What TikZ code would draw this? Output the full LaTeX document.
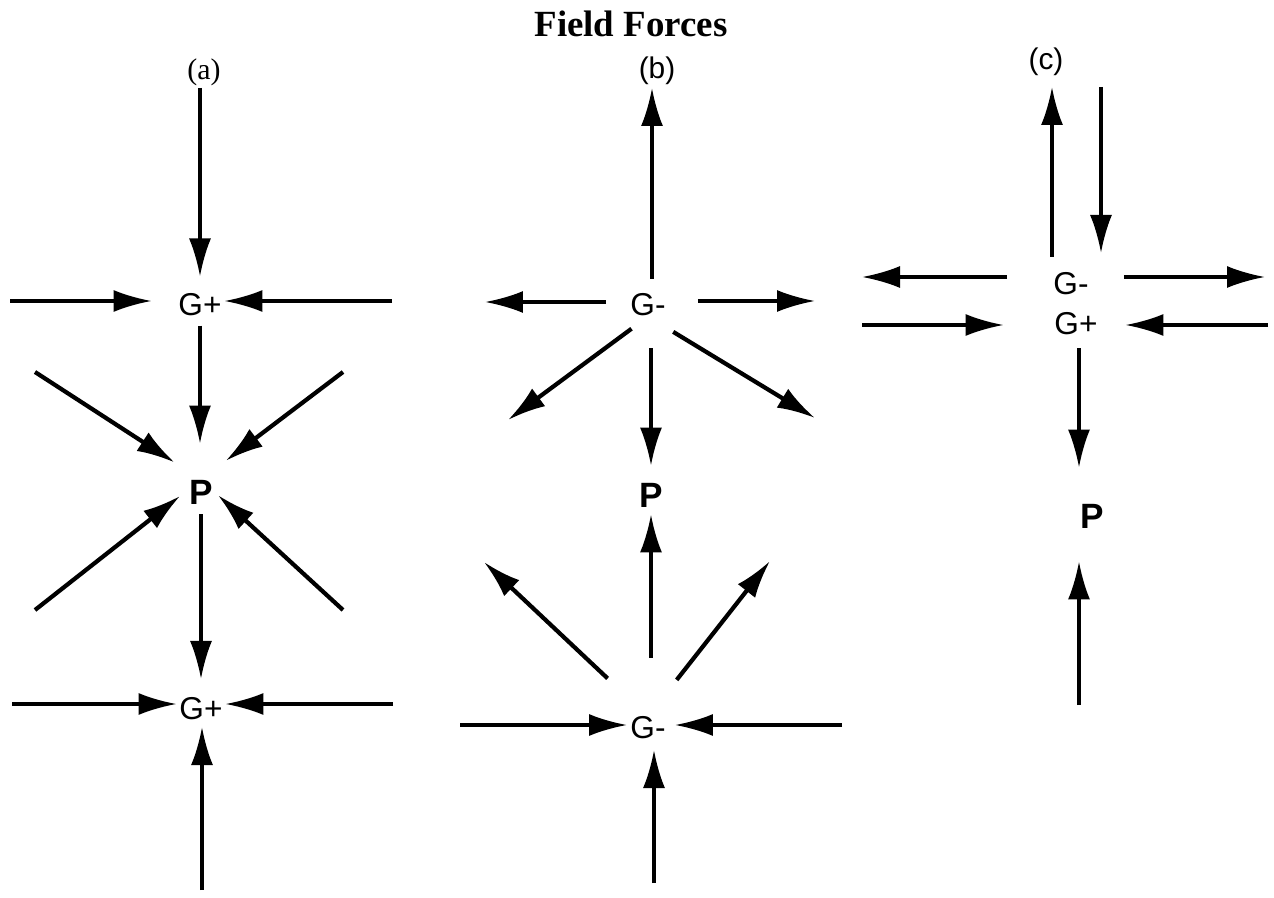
\documentclass[tikz,border=0pt]{standalone}
\usepackage{fontspec}
\setmainfont{Liberation Serif}
\setsansfont{Liberation Sans}
\usetikzlibrary{arrows.meta}

\begin{document}
\begin{tikzpicture}[x=0.02cm, y=-0.02cm,
    force/.style={line width=1.8pt, -{Latex[length=0.76cm, width=0.44cm]}},
    slant/.style={force, line width=2.4pt},
    glabel/.style={inner sep=0pt, font=\sffamily\fontsize{18}{20}\selectfont},
    plabel/.style={inner sep=0pt, font=\sffamily\bfseries\fontsize{20}{22}\selectfont},
    panel/.style={inner sep=0pt, font=\fontsize{17}{19}\selectfont}]
    \useasboundingbox (0,0) rectangle (1274,898);
    \node[inner sep=0pt, font=\bfseries\fontsize{21}{24}\selectfont] (title) at (631,24) {Field Forces};

    % (a)
    \node[panel] (La) at (204,72) {(a)};
    \node[glabel] (Gat) at (200,305) {G+};
    \node[plabel] (Pa) at (201,492) {P};
    \node[glabel] (Gab) at (201,709) {G+};
    \coordinate (a1) at (200,88);
    \coordinate (a2) at (10,301);
    \coordinate (a3) at (392,301);
    \coordinate (a4) at (35,372);
    \coordinate (a5) at (343,372);
    \coordinate (a6) at (35,610);
    \coordinate (a7) at (343,610);
    \coordinate (a8) at (12,704);
    \coordinate (a9) at (393,704);
    \coordinate (a10) at (202,890);
    \draw[force, shorten >=0.34cm] (a1) -- (a1 |- Gat.north);
    \draw[force, shorten >=0.53cm] (a2) -- (a2 -| Gat.west);
    \draw[force, shorten >=0.05cm] (a3) -- (a3 -| Gat.east);
    \draw[force, shorten <=0.18cm, shorten >=0.72cm] (Gat.south) -- (Gat.south |- Pa.north);
    \draw[slant, shorten >=0.63cm] (a4) -- (Pa.north);
    \draw[slant, shorten >=0.62cm] (a5) -- (Pa.north);
    \draw[slant, shorten >=0.53cm] (a6) -- (Pa.north);
    \draw[slant, shorten >=0.46cm] (a7) -- (Pa.north);
    \draw[force, shorten <=0.2cm, shorten >=0.37cm] (Pa.south) -- (Pa.south |- Gab.north);
    \draw[force, shorten >=0.05cm] (a8) -- (a8 -| Gab.west);
    \draw[force, shorten >=0.05cm] (a9) -- (a9 -| Gab.east);
    \draw[force, shorten >=0.13cm] (a10) -- (a10 |- Gab.south);

    % (b)
    \node[panel, font=\sffamily\fontsize{17}{19}\selectfont] (Lb) at (657,71) {(b)};
    \node[glabel] (Gbt) at (648,305) {G-};
    \node[plabel] (Pb) at (651,495) {P};
    \node[glabel] (Gbb) at (648,728) {G-};
    \coordinate (b1) at (652,88);
    \coordinate (b2) at (485,302);
    \coordinate (b3) at (815,301);
    \coordinate (b4) at (508,420);
    \coordinate (b5) at (815,418);
    \coordinate (b6) at (484,562);
    \coordinate (b7) at (770,561);
    \coordinate (b8) at (460,725);
    \coordinate (b9) at (842,725);
    \coordinate (b10) at (654,883);
    \draw[force, shorten <=0.29cm] (b1 |- Gbt.north) -- (b1);
    \draw[force, shorten <=0.48cm] (b2 -| Gbt.west) -- (b2);
    \draw[force, shorten <=0.64cm] (b3 -| Gbt.east) -- (b3);
    \draw[slant, shorten <=0.41cm] (Gbt.south) -- (b4);
    \draw[slant, shorten <=0.59cm] (Gbt.south) -- (b5);
    \draw[force, shorten <=0.63cm, shorten >=0.34cm] (Gbt.south -| Pb) -- (Pb.north);
    \draw[force, shorten <=1.17cm, shorten >=0.14cm] (Gbb.north -| Pb) -- (Pb.south);
    \draw[slant, shorten <=1.11cm] (Gbb.north) -- (b6);
    \draw[slant, shorten <=0.93cm] (Gbb.north) -- (b7);
    \draw[force, shorten >=0.06cm] (b8) -- (b8 -| Gbb.west);
    \draw[force, shorten >=0.18cm] (b9) -- (b9 -| Gbb.east);
    \draw[force, shorten >=0.21cm] (b10) -- (b10 |- Gbb.south);

    % (c)
    \node[panel, font=\sffamily\fontsize{17}{19}\selectfont] (Lc) at (1046,62) {(c)};
    \node[glabel] (Gcm) at (1071,284) {G-};
    \node[glabel] (Gcp) at (1076,324) {G+};
    \node[plabel] (Pc) at (1092,516) {P};
    \coordinate (c1) at (1052,87);
    \coordinate (c2) at (1101,87);
    \coordinate (c3) at (862,277);
    \coordinate (c4) at (1265,277);
    \coordinate (c5) at (862,325);
    \coordinate (c6) at (1268,325);
    \coordinate (c8) at (1079,705);
    \draw[force, shorten <=0.31cm] (c1 |- Gcm.north) -- (c1);
    \draw[force, shorten >=0.39cm] (c2) -- (c2 |- Gcm.north);
    \draw[force, shorten <=0.92cm] (c3 -| Gcm.west) -- (c3);
    \draw[force, shorten <=0.7cm] (c4 -| Gcm.east) -- (c4);
    \draw[force, shorten >=1.01cm] (c5) -- (c5 -| Gcp.west);
    \draw[force, shorten >=0.55cm] (c6) -- (c6 -| Gcp.east);
    \draw[force, shorten <=0.25cm, shorten >=0.72cm] (c8 |- Gcp.south) -- (c8 |- Pc.north);
    \draw[force, shorten >=0.66cm] (c8) -- (c8 |- Pc.south);
\end{tikzpicture}
\end{document}
